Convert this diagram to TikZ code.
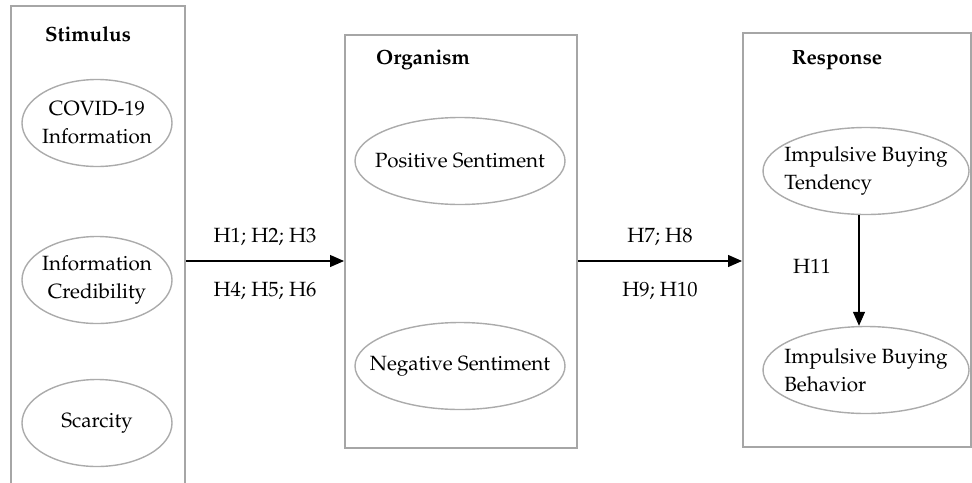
\documentclass[tikz,border=0pt]{standalone}
\usepackage[T1]{fontenc}
\usepackage{mathpazo}
\usepackage{tikz}
\usetikzlibrary{arrows.meta,positioning,shapes.geometric}
\definecolor{frame}{HTML}{A6A6A6}
\definecolor{oval}{HTML}{ABABAB}

\begin{document}
\begin{tikzpicture}[x=0.5pt,y=-0.5pt,font=\fontsize{10.3}{14}\selectfont,
  panel/.style={draw=frame,line width=1pt,rectangle,inner sep=0pt},
  cons/.style={draw=oval,line width=0.7pt,ellipse,inner xsep=-8pt,inner ysep=0pt,minimum width=75pt,minimum height=43.5pt,align=center},
  head/.style={font=\fontsize{10.3}{14}\selectfont\bfseries},
  hyp/.style={font=\fontsize{10.3}{14}\selectfont},
  ar/.style={-{Triangle[length=7pt,width=6pt]},line width=0.6pt}]
\useasboundingbox (0,0) rectangle (972,482);
\clip (0,0) rectangle (972,482);
% the three S-O-R panels
\node[panel,minimum width=87pt,minimum height=277pt] (stim) at (98,283) {};
\node[panel,minimum width=116pt,minimum height=206.5pt] (org) at (461,241.5) {};
\node[panel,minimum width=114pt,minimum height=207pt] (resp) at (857,240) {};
\node[head] (stimt) at (88,34) {Stimulus};
\node[head] (orgt) at (423,60) {Organism};
\node[head] (respt) at (837,60) {Response};
% constructs
\node[cons] (covid) at (97,123) {COVID-19\\Information};
\node[cons] (cred) at (97,280) {Information\\Credibility};
\node[cons] (scar) at (97,423) {Scarcity};
\node[cons,minimum width=105pt] (pos) at (460,161) {Positive Sentiment};
\node[cons,minimum width=105pt] (neg) at (460,366) {Negative Sentiment};
\node[cons,minimum width=103pt,align=left] (tend) at (866,171) {Impulsive Buying\\Tendency};
\node[cons,minimum width=103pt,align=left] (behav) at (866,370) {Impulsive Buying\\Behavior};
% paths
\coordinate (lvl) at (0,261);
\draw[ar] (stim.east |- lvl) -- node[hyp,above=4pt] (h1) {H1; H2; H3}
  node[hyp,below=7pt] (h4) {H4; H5; H6} (org.west |- lvl);
\draw[ar] (org.east |- lvl) -- node[hyp,above=4pt] (h7) {H7; H8}
  node[hyp,below=7pt] (h9) {H9; H10} (resp.west |- lvl);
\draw[ar] ([xshift=-3.5pt]tend.south) -- ([xshift=-3.5pt]behav.north);
\node[hyp] (h11) at (812,266) {H11};
\end{tikzpicture}
\end{document}
